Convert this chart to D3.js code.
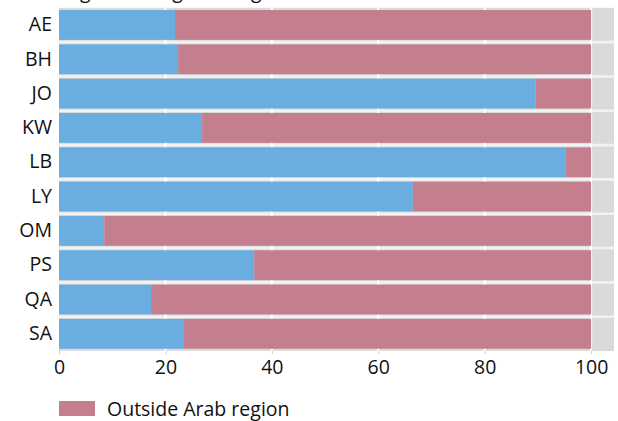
<!DOCTYPE html>
<html lang="en">

<head>
    <meta charset="UTF-8">
    <script src="https://d3js.org/d3.v7.min.js"></script>
    <title>Migrant origin by country</title>
    <style>
        body { margin: 0; background: #fff; }
        text { font-family: "Open Sans", "Noto Sans", sans-serif; }
    </style>
</head>

<body>
    <div id="chart"></div>
    <script>
        const countries = ["AE", "BH", "JO", "KW", "LB", "LY", "OM", "PS", "QA", "SA"];
        const withinArab = [21.8, 22.4, 89.6, 26.9, 95.2, 66.5, 8.5, 36.7, 17.3, 23.5];
        const outsideArab = withinArab.map(v => 100 - v);
        const xTicks = [0, 20, 40, 60, 80, 100];

        const width = 618, height = 421;
        const marginLeft = 59, marginRight = 4;
        const xMax = 104.3;
        const fontSize = 19.5;

        const svg = d3.select("#chart").append("svg")
            .attr("width", width)
            .attr("height", height);

        const x = d3.scaleLinear([0, xMax], [marginLeft, width - marginRight]);
        const y = d3.scaleBand(countries, [7.8, 351])
            .paddingInner(0.13)
            .paddingOuter(0.065);

        // title, mostly cut off at the top edge (as in the source)
        svg.append("text")
            .attr("x", marginLeft - 2)
            .attr("y", -2)
            .attr("font-size", fontSize)
            .attr("fill", "#111")
            .text("Region of origin of migrants");

        // panel
        svg.append("rect")
            .attr("x", x(0))
            .attr("y", 7.8)
            .attr("width", x(xMax) - x(0))
            .attr("height", 351 - 7.8)
            .attr("fill", "#dadada");

        // white separators between rows
        svg.append("g")
            .selectAll("line")
            .data(countries.slice(1))
            .join("line")
            .attr("x1", x(0))
            .attr("x2", x(xMax))
            .attr("y1", d => y(d) - y.step() * y.paddingInner() / 2)
            .attr("y2", d => y(d) - y.step() * y.paddingInner() / 2)
            .attr("stroke", "#f2f2f2")
            .attr("stroke-width", 2.6);

        // vertical gridlines
        svg.append("g")
            .selectAll("line")
            .data(xTicks.slice(1))
            .join("line")
            .attr("x1", d => x(d))
            .attr("x2", d => x(d))
            .attr("y1", 7.8)
            .attr("y2", 351)
            .attr("stroke", "#fff")
            .attr("stroke-width", 2);

        const rows = svg.append("g")
            .selectAll("g")
            .data(countries)
            .join("g");

        rows.append("rect")
            .attr("x", x(0))
            .attr("y", d => y(d))
            .attr("width", (d, i) => x(withinArab[i]) - x(0))
            .attr("height", y.bandwidth())
            .attr("fill", "#6aade0");

        rows.append("rect")
            .attr("x", (d, i) => x(withinArab[i]))
            .attr("y", d => y(d))
            .attr("width", (d, i) => x(withinArab[i] + outsideArab[i]) - x(withinArab[i]))
            .attr("height", y.bandwidth())
            .attr("fill", "#c47f8e");

        // y axis labels
        svg.append("g")
            .attr("transform", `translate(${marginLeft},0)`)
            .call(d3.axisLeft(y).tickSize(0).tickPadding(7))
            .call(g => g.select(".domain").remove())
            .call(g => g.selectAll("text")
                .attr("font-size", fontSize)
                .attr("fill", "#111")
                .style("font-family", "'Open Sans', 'Noto Sans', sans-serif"));

        // x axis
        svg.append("g")
            .attr("transform", "translate(0,351)")
            .call(d3.axisBottom(x).tickValues(xTicks).tickSize(3).tickPadding(6))
            .call(g => g.select(".domain").remove())
            .call(g => g.selectAll(".tick line").attr("stroke", "#ccc"))
            .call(g => g.selectAll("text")
                .attr("font-size", fontSize)
                .attr("fill", "#111")
                .style("font-family", "'Open Sans', 'Noto Sans', sans-serif"));

        // legend
        const legend = svg.append("g").attr("transform", "translate(59,401)");
        legend.append("rect")
            .attr("width", 36)
            .attr("height", 15)
            .attr("fill", "#c47f8e");
        legend.append("text")
            .attr("x", 48)
            .attr("y", 15)
            .attr("font-size", fontSize)
            .attr("fill", "#111")
            .text("Outside Arab region");
    </script>
</body>

</html>
